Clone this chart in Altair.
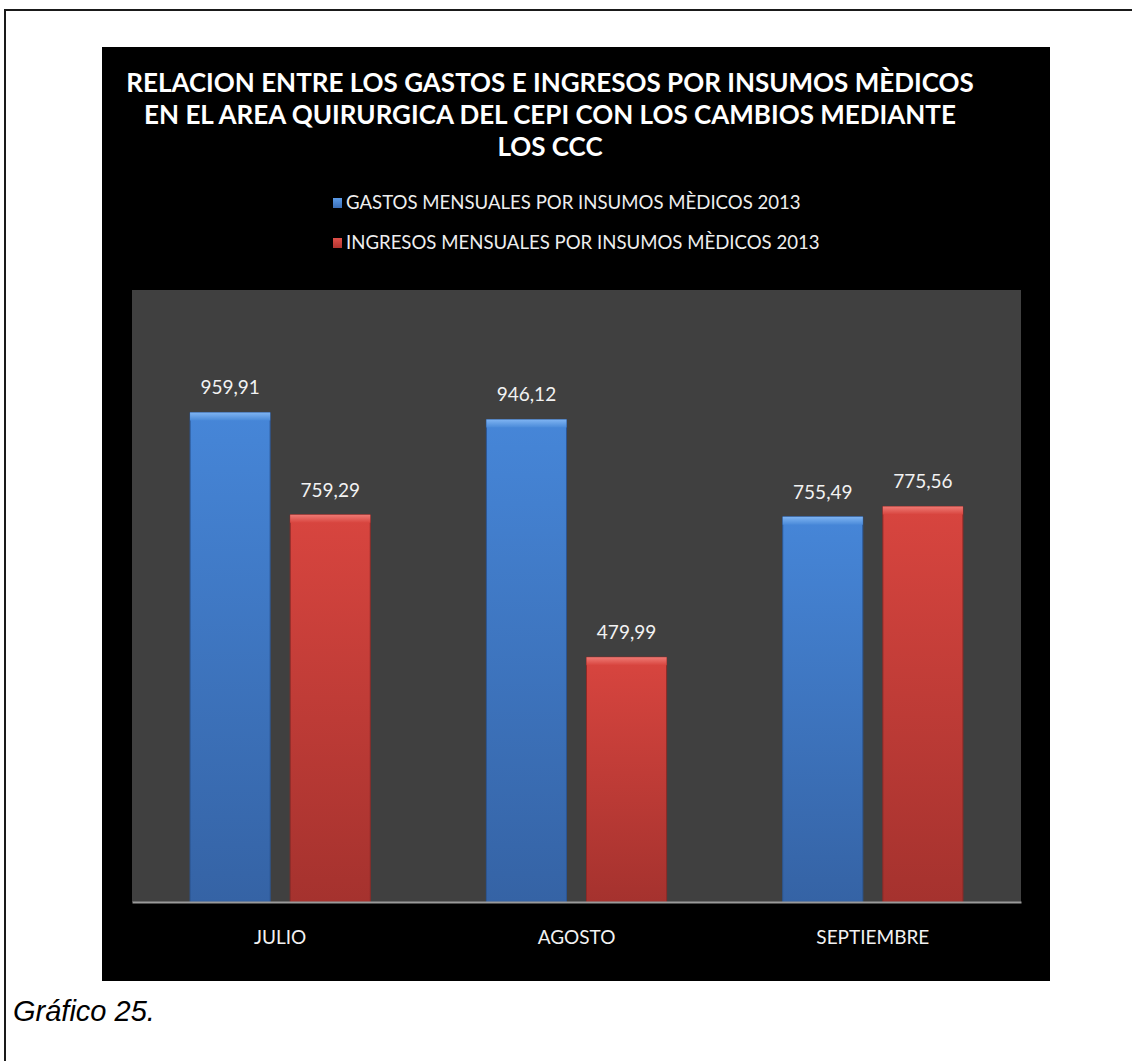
import altair as alt
import pandas as pd

# ---------------- data ----------------
meses = ["JULIO", "AGOSTO", "SEPTIEMBRE"]
series = [
    "GASTOS MENSUALES POR INSUMOS MÈDICOS 2013",
    "INGRESOS MENSUALES POR INSUMOS MÈDICOS 2013",
]
gastos = [959.91, 946.12, 755.49]
ingresos = [759.29, 479.99, 775.56]
titulo = [
    "RELACION ENTRE LOS GASTOS E INGRESOS POR INSUMOS MÈDICOS",
    "EN EL AREA QUIRURGICA DEL CEPI  CON  LOS CAMBIOS MEDIANTE",
    "LOS CCC",
]
pie = "Gráfico 25."

rows = []
for m, g, i in zip(meses, gastos, ingresos):
    rows.append({"mes": m, "serie": series[0], "valor": g})
    rows.append({"mes": m, "serie": series[1], "valor": i})
df = pd.DataFrame(rows)
df["etiqueta"] = df["valor"].map(lambda v: f"{v:.2f}".replace(".", ","))
one = pd.DataFrame({"k": [0]})

# ---------------- layout (pixels) ----------------
W, H = 889, 612
PL, PT = 132, 290  # plot area origin in page coords


def px(x):
    return x - PL


def py(y):
    return y - PT


FONT = "Lato"


def grad(c_top, c_bot):
    return alt.LinearGradient(
        gradient="linear",
        stops=[alt.GradientStop(color=c_top, offset=0), alt.GradientStop(color=c_bot, offset=1)],
        x1=0, x2=0, y1=0, y2=1,
    )


x_enc = alt.X(
    "mes:N", sort=meses, title=None,
    scale=alt.Scale(paddingInner=0, paddingOuter=0),
    axis=alt.Axis(
        labelAngle=0, labelColor="#f2f2f2", labelFont=FONT, labelFontSize=19,
        labelPadding=26, ticks=False, domainColor="#9a9a9a", domainWidth=2,
        grid=False, zindex=1,
    ),
)
xo_enc = alt.XOffset("serie:N", sort=series, scale=alt.Scale(paddingInner=0.2, paddingOuter=0.58))
y_enc = alt.Y("valor:Q", scale=alt.Scale(domain=[0, 1200]), axis=None)

base = alt.Chart(df)
gastos_df = base.transform_filter(alt.datum.serie == series[0])
ingresos_df = base.transform_filter(alt.datum.serie == series[1])

deco = alt.Chart(one)

# frame lines of the page
frame_top = deco.mark_rule(color="#1a1a1a", strokeWidth=2).encode(
    x=alt.value(px(4)), x2=alt.value(px(1132)), y=alt.value(py(10)))
frame_left = deco.mark_rule(color="#1a1a1a", strokeWidth=2).encode(
    x=alt.value(px(5)), y=alt.value(py(10)), y2=alt.value(py(1061)))

# black chart area and dark grey plot area
black = deco.mark_rect(color="#000000").encode(
    x=alt.value(px(102)), x2=alt.value(px(1050)), y=alt.value(py(47)), y2=alt.value(py(981)))
grey = deco.mark_rect(color="#404040").encode(
    x=alt.value(0), x2=alt.value(W), y=alt.value(0), y2=alt.value(H))

# title
title_layers = []
for k, line in enumerate(titulo):
    title_layers.append(
        deco.mark_text(font=FONT, fontSize=26, fontWeight="bold", color="#ffffff",
                       align="center", baseline="middle").encode(
            x=alt.value(px(550)), y=alt.value(py(84 + 32 * k)), text=alt.value(line))
    )

# legend
leg_layers = []
leg_cols = [("#5b9be8", "#3a6db5"), ("#e0504a", "#b0342f")]
for k, name in enumerate(series):
    yc = 203 + 40 * k
    leg_layers.append(
        deco.mark_rect(color=grad(*leg_cols[k])).encode(
            x=alt.value(px(333)), x2=alt.value(px(342)),
            y=alt.value(py(yc - 5)), y2=alt.value(py(yc + 5)))
    )
    leg_layers.append(
        deco.mark_text(font=FONT, fontSize=18.6, color="#eeeeee", align="left", baseline="middle").encode(
            x=alt.value(px(346)), y=alt.value(py(yc)), text=alt.value(name))
    )

# bars
bar_g = gastos_df.mark_bar(color=grad("#4686d8", "#3563a5"), stroke="#2c5693", strokeWidth=1).encode(
    x=x_enc, xOffset=xo_enc, y=y_enc, y2=alt.datum(0))
bar_i = ingresos_df.mark_bar(color=grad("#d8453f", "#a5322e"), stroke="#8c2a27", strokeWidth=1).encode(
    x=x_enc, xOffset=xo_enc, y=y_enc, y2=alt.datum(0))
bev_g = gastos_df.mark_bar(color=grad("#7fb4f2", "#4a8ad9"), y2Offset=8).encode(
    x=x_enc, xOffset=xo_enc, y=y_enc, y2="valor:Q")
bev_i = ingresos_df.mark_bar(color=grad("#ef7a74", "#d8453f"), y2Offset=8).encode(
    x=x_enc, xOffset=xo_enc, y=y_enc, y2="valor:Q")

labels = base.mark_text(font=FONT, fontSize=19, color="#f2f2f2", align="center",
                        baseline="middle", dy=-24).encode(
    x=x_enc, xOffset=xo_enc, y=y_enc, text="etiqueta:N")

caption = deco.mark_text(font="Liberation Sans", fontSize=29, fontStyle="italic", color="#000000",
                         align="left", baseline="middle").encode(
    x=alt.value(px(13)), y=alt.value(py(1012)), text=alt.value(pie))

chart = alt.layer(
    frame_top, frame_left, black, grey, *title_layers, *leg_layers,
    bar_g, bar_i, bev_g, bev_i, labels, caption,
).properties(
    width=W, height=H,
    autosize=alt.AutoSizeParams(type="none"),
    padding={"left": PL, "top": PT, "right": 1132 - PL - W, "bottom": 1061 - PT - H},
    background="#ffffff",
).configure_view(stroke=None)

chart.save("out.html", embed_options={"renderer": "svg", "actions": False})
